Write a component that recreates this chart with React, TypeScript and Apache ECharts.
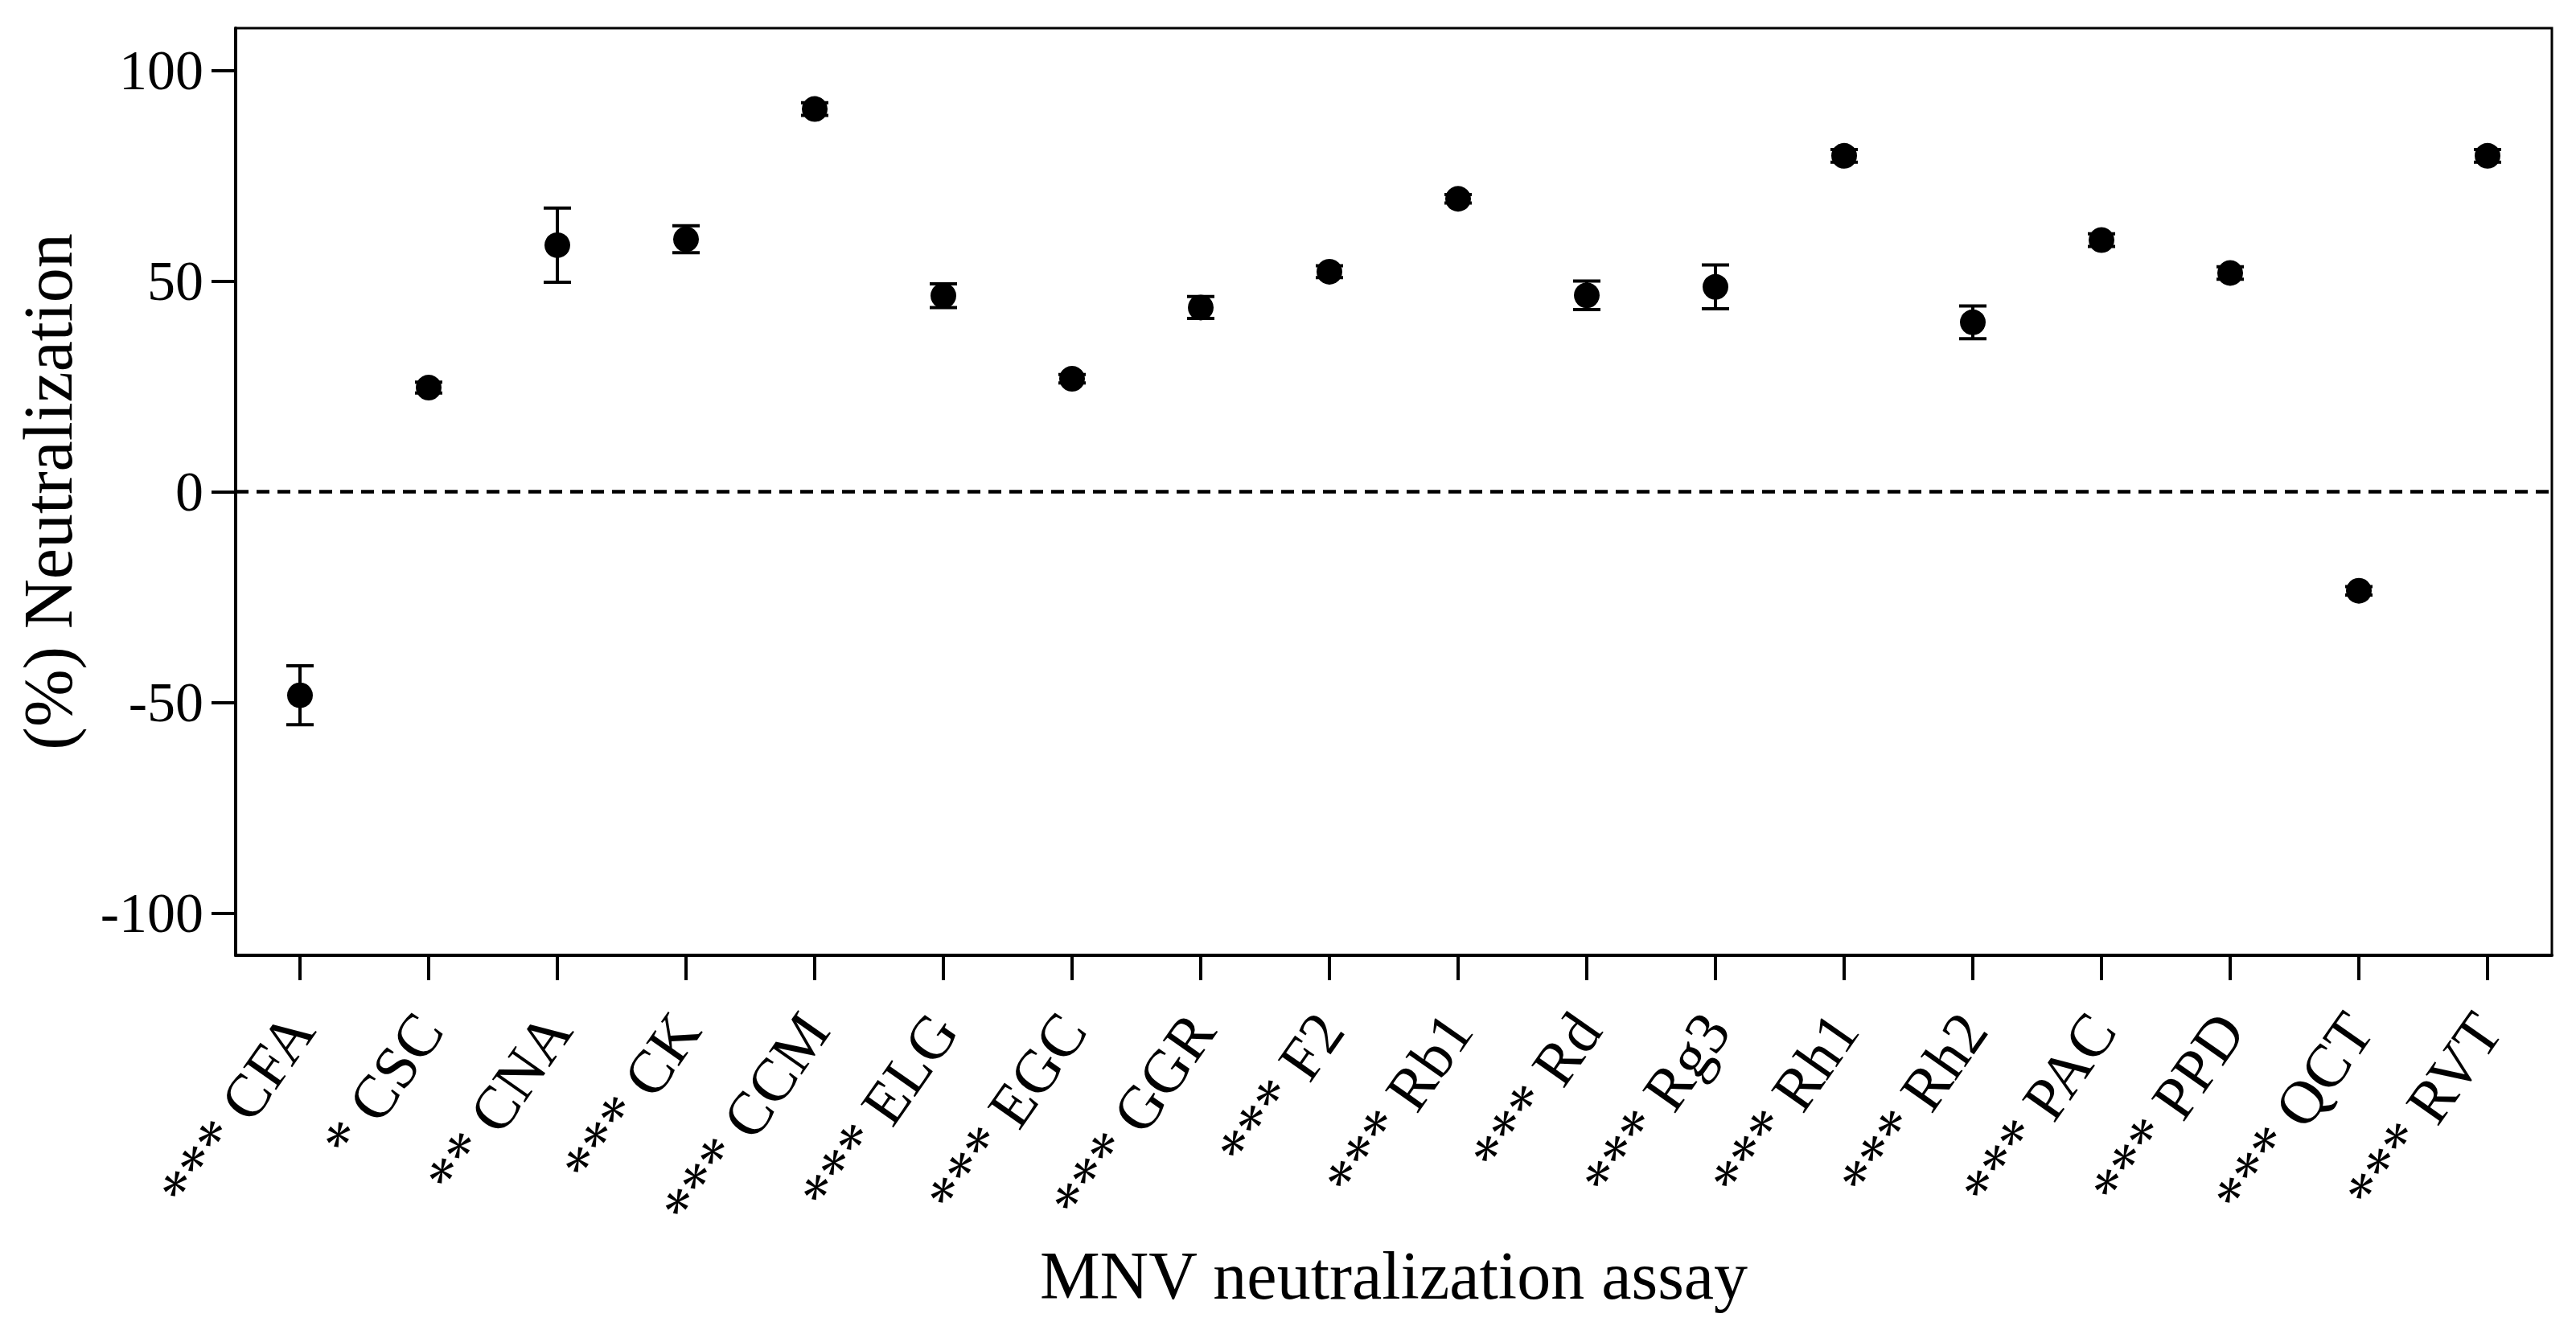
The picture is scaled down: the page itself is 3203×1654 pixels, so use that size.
import React, { useEffect, useRef } from "react";
import * as echarts from "echarts";

const categories = [
  "*** CFA", "* CSC", "** CNA", "*** CK", "*** CCM", "*** ELG", "*** EGC", "*** GGR", "*** F2",
  "*** Rb1", "*** Rd", "*** Rg3", "*** Rh1", "*** Rh2", "*** PAC", "*** PPD", "*** QCT", "*** RVT",
];
const meanValues = [
  -48.3, 24.7, 58.5, 59.9, 90.8, 46.5, 26.8, 43.7, 52.2,
  69.5, 46.6, 48.6, 79.7, 40.2, 59.7, 51.9, -23.5, 79.7,
];
const sdValues = [
  7.0, 1.3, 8.8, 3.2, 1.5, 2.8, 1.0, 2.6, 1.4,
  1.0, 3.4, 5.2, 1.5, 3.9, 1.5, 1.5, 1.0, 1.5,
];
const yTickValues = [-100, -50, 0, 50, 100];

const FONT = "'Liberation Serif', 'Times New Roman', serif";

export default function App() {
  const ref = useRef<HTMLDivElement>(null);
  useEffect(() => {
    if (!ref.current) return;
    const chart = echarts.init(ref.current, null, { renderer: "svg" });
    const errData = categories.map((_, i) => [i, meanValues[i] - sdValues[i], meanValues[i] + sdValues[i]]);
    chart.setOption({
      animation: false,
      backgroundColor: "#fff",
      grid: {
        left: 293,
        right: 30,
        top: 35,
        bottom: 466,
        show: true,
        borderColor: "#000",
        borderWidth: 3,
        backgroundColor: "transparent",
      },
      xAxis: {
        type: "category",
        data: categories,
        boundaryGap: true,
        name: "MNV neutralization assay",
        nameLocation: "middle",
        nameGap: 336,
        nameTextStyle: { fontFamily: FONT, fontSize: 84, color: "#000" },
        axisLine: { show: true, onZero: false, lineStyle: { color: "#000", width: 4 } },
        axisTick: { show: true, inside: false, alignWithLabel: true, interval: 0, length: 31, lineStyle: { color: "#000", width: 4 } },
        axisLabel: {
          rotate: 55,
          margin: 80,
          fontFamily: FONT,
          fontSize: 76,
          color: "#000",
          interval: 0,
        },
        splitLine: { show: false },
      },
      yAxis: {
        type: "value",
        min: -110,
        max: 110,
        interval: 10,
        name: "(%) Neutralization",
        nameLocation: "middle",
        nameRotate: 90,
        nameGap: 190,
        nameTextStyle: { fontFamily: FONT, fontSize: 86, color: "#000" },
        axisLine: { show: true, onZero: false, lineStyle: { color: "#000", width: 4 } },
        axisTick: { show: true, length: 30, customValues: yTickValues, lineStyle: { color: "#000", width: 4 } },
        axisLabel: {
          customValues: yTickValues,
          margin: 40,
          fontFamily: FONT,
          fontSize: 70,
          color: "#000",
        },
        splitLine: { show: false },
      },
      series: [
        {
          type: "custom",
          data: errData,
          encode: { x: 0, y: [1, 2] },
          z: 2,
          renderItem: (params: any, api: any) => {
            const x = api.value(0);
            const lo = api.coord([x, api.value(1)]);
            const hi = api.coord([x, api.value(2)]);
            const half = 17;
            const st = { stroke: "#000", lineWidth: 4 };
            return {
              type: "group",
              children: [
                { type: "line", shape: { x1: hi[0], y1: hi[1], x2: lo[0], y2: lo[1] }, style: st },
                { type: "line", shape: { x1: hi[0] - half, y1: hi[1], x2: hi[0] + half, y2: hi[1] }, style: st },
                { type: "line", shape: { x1: lo[0] - half, y1: lo[1], x2: lo[0] + half, y2: lo[1] }, style: st },
              ],
            };
          },
        },
        {
          type: "scatter",
          data: meanValues,
          symbol: "circle",
          symbolSize: 32,
          z: 3,
          itemStyle: { color: "#000", opacity: 1 },
          markLine: {
            silent: true,
            symbol: ["none", "none"],
            label: { show: false },
            lineStyle: { color: "#000", width: 4.5, type: [16, 10], opacity: 1 },
            data: [{ yAxis: 0 }],
          },
        },
      ],
    });
    return () => chart.dispose();
  }, []);
  return (
    <div
      ref={ref}
      style={{ position: "fixed", left: 0, top: 0, width: 3203, height: 1654, background: "#fff" }}
    />
  );
}
